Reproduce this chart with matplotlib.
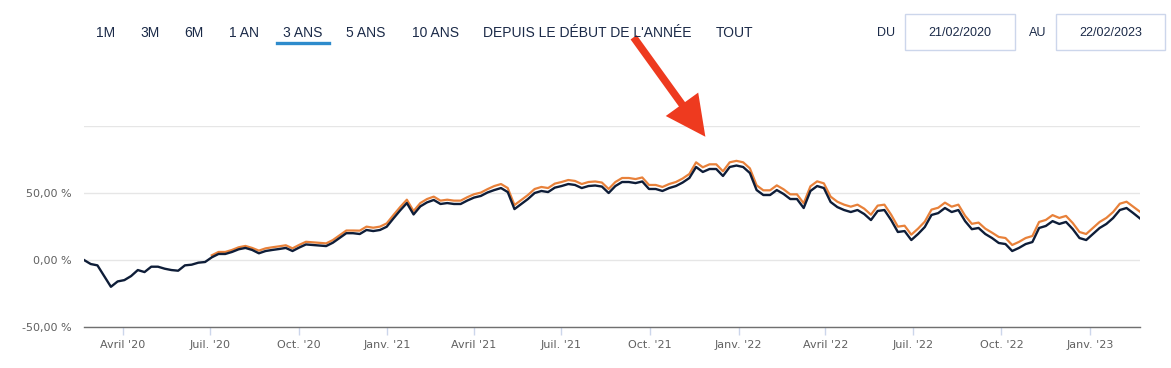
import matplotlib
matplotlib.use("Agg")
import matplotlib.pyplot as plt
import matplotlib.dates as mdates
import numpy as np
import pandas as pd

# ---------------- data ----------------
start_date = "2020-02-21"
end_date = "2023-02-22"

navy_values = [
    0, -3, -4, -12, -20, -16, -15, -12, -7.5, -9,
    -5, -5, -6.5, -7.5, -8, -4, -3.5, -2, -1.5, 2,
    4.5, 4.5, 6, 8, 9, 7.5, 5, 6.7, 7.5, 8.2,
    9, 6.7, 9.3, 11.6, 11.2, 10.8, 10.4, 12.9, 16.4, 20,
    20, 19.4, 22.4, 21.6, 22.4, 24.8, 31, 37, 42.5, 34,
    40, 43, 44.8, 41.8, 42.5, 41.8, 41.8, 44.4, 46.6, 47.8,
    50.4, 52.2, 53.7, 50.7, 38, 41.8, 45.5, 50, 51.5, 50.7,
    54, 55.2, 56.7, 56, 53.7, 55.2, 55.6, 54.8, 50, 55.2,
    58.2, 58.2, 57.4, 58.6, 53, 53, 51.5, 53.7, 55.2, 57.8,
    61.2, 69.4, 65.7, 67.9, 67.9, 62.7, 69.4, 70.5, 69.4, 64.9,
    52.2, 48.5, 48.5, 52.2, 49.3, 45.5, 45.5, 38.8, 51.5, 55.2,
    53.7, 43.3, 39.5, 37.3, 35.8, 37.3, 34.3, 29.8, 36.6, 37.3,
    29.8, 20.9, 21.6, 14.9, 19.4, 24.6, 33.6, 35, 38.8, 35.8,
    37.3, 29, 23, 23.9, 19.4, 16.4, 12.7, 11.9, 6.7, 9,
    11.9, 13.4, 23.9, 25.4, 29, 26.9, 28.4, 23.1, 16.4, 14.9,
    19.4, 23.9, 26.9, 31.3, 37.3, 38.8, 35, 31,
]

orange_values = [None] * 19 + [
    3.5,
    6, 6, 7.5, 9.5, 10.5, 9, 7, 8.7, 9.5, 10.2,
    11, 8.7, 11.3, 13.6, 13.2, 12.8, 12.4, 14.9, 18.4, 22,
    22, 21.9, 24.9, 24.1, 24.9, 27.3, 33.5, 39.5, 45, 36.5,
    42.5, 45.5, 47.3, 44.3, 45, 44.3, 44.3, 46.9, 49.1, 50.3,
    52.9, 55.2, 56.7, 53.7, 41, 44.8, 48.5, 53, 54.5, 53.7,
    57, 58.2, 59.7, 59, 56.7, 58.2, 58.6, 57.8, 53, 58.2,
    61.2, 61.2, 60.4, 61.6, 56, 56, 54.5, 56.7, 58.2, 60.8,
    64.2, 72.9, 69.2, 71.4, 71.4, 66.2, 72.9, 74, 72.9, 68.4,
    55.7, 52, 52, 55.7, 52.8, 49, 49, 42.3, 55, 58.7,
    57.2, 47.3, 43.5, 41.3, 39.8, 41.3, 38.3, 33.8, 40.6, 41.3,
    33.8, 24.9, 25.6, 18.9, 23.4, 28.6, 37.6, 39, 42.8, 39.8,
    41.3, 33, 27, 27.9, 23.4, 20.4, 17.2, 16.4, 11.2, 13.5,
    16.4, 17.9, 28.4, 29.9, 33.5, 31.4, 32.9, 27.6, 20.9, 19.4,
    23.9, 28.4, 31.4, 35.8, 42, 43.5, 39.8, 36,
]

y_ticks = [-50, 0, 50, 100]
y_tick_labels = ["-50,00 %", "0,00 %", "50,00 %", ""]
x_tick_dates = ["2020-04-01", "2020-07-01", "2020-10-01", "2021-01-01",
                "2021-04-01", "2021-07-01", "2021-10-01", "2022-01-01",
                "2022-04-01", "2022-07-01", "2022-10-01", "2023-01-01"]
x_tick_labels = ["Avril '20", "Juil. '20", "Oct. '20", "Janv. '21",
                 "Avril '21", "Juil. '21", "Oct. '21", "Janv. '22",
                 "Avril '22", "Juil. '22", "Oct. '22", "Janv. '23"]
buttons = ["1M", "3M", "6M", "1 AN", "3 ANS", "5 ANS", "10 ANS",
           "DEPUIS LE DÉBUT DE L'ANNÉE", "TOUT"]
date_from = "21/02/2020"
date_to = "22/02/2023"

# ---------------- figure ----------------
W, H = 1171, 368
fig = plt.figure(figsize=(W / 100, H / 100), dpi=100)
fig.patch.set_facecolor("white")

def fx(px):
    return px / W

def fy(py):
    return 1 - py / H

ax = fig.add_axes([fx(84), fy(327), fx(1140) - fx(84), fy(126) - fy(327)])

dates = pd.date_range(start_date, end_date, periods=len(navy_values))
orange = np.array([np.nan if v is None else v for v in orange_values], dtype=float)

ax.plot(dates, orange, color="#e8813a", lw=1.6, solid_joinstyle="round", zorder=3)
ax.plot(dates, navy_values, color="#0e1d38", lw=1.7, solid_joinstyle="round", zorder=4)

ax.set_xlim(pd.Timestamp(start_date), pd.Timestamp(end_date))
ax.set_ylim(-50, 100)

ax.set_yticks(y_ticks)
ax.set_yticklabels(y_tick_labels)
ax.tick_params(axis="y", length=0, pad=9, labelsize=8, labelcolor="#606060")
ax.grid(axis="y", color="#e6e6e6", lw=1)
ax.set_axisbelow(True)

ax.set_xticks([pd.Timestamp(d) for d in x_tick_dates])
ax.set_xticklabels(x_tick_labels)
ax.tick_params(axis="x", length=6, width=1, color="#ccd6eb", pad=3,
               labelsize=8, labelcolor="#606060", direction="out")

for s in ["top", "right", "left"]:
    ax.spines[s].set_visible(False)
ax.spines["bottom"].set_color("#707070")
ax.spines["bottom"].set_linewidth(1)

# ---------------- range selector buttons ----------------
btn_x = [106, 150, 194, 244, 303, 366, 435, 587, 735]
for b, xb in zip(buttons, btn_x):
    fig.text(fx(xb), fy(33), b, ha="center", va="center", fontsize=10,
             family="Liberation Sans", color="#1b2a48")
fig.add_artist(plt.Line2D([fx(277), fx(329)], [fy(43), fy(43)],
                          color="#2e8bcc", lw=2.4))

# date inputs
fig.text(fx(886), fy(33), "DU", ha="center", va="center", fontsize=9,
         family="Liberation Sans", color="#1b2a48")
fig.text(fx(1038), fy(33), "AU", ha="center", va="center", fontsize=9,
         family="Liberation Sans", color="#1b2a48")
for x0, x1, t in [(905, 1015, date_from), (1056, 1165, date_to)]:
    fig.add_artist(plt.Rectangle((fx(x0), fy(50)), fx(x1) - fx(x0), fy(14) - fy(50),
                                 fill=False, edgecolor="#ccd6eb", lw=1))
    fig.text(fx((x0 + x1) / 2), fy(33), t, ha="center", va="center", fontsize=9,
             family="Liberation Sans", color="#1b2a48")

# red arrow
fig.add_artist(matplotlib.patches.FancyArrowPatch(
    (fx(632), fy(35)), (fx(707), fy(139)), transform=fig.transFigure,
    arrowstyle="simple,head_length=1.6,head_width=1.6,tail_width=0.3",
    mutation_scale=18, color="#ee3a1f", lw=0))

fig.savefig("out.png", dpi=100, facecolor="white")
